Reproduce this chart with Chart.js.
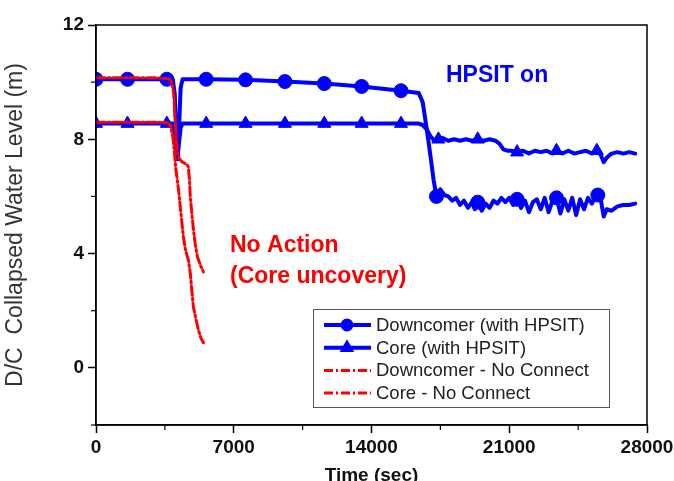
<!DOCTYPE html>
<html>
<head>
<meta charset="utf-8">
<script src="https://cdn.jsdelivr.net/npm/chart.js@4.4.0/dist/chart.umd.min.js"></script>
<style>
  html, body { margin: 0; padding: 0; background: #fff; overflow: hidden; }
  #wrap { width: 674px; height: 481px; }
</style>
</head>
<body>
<div id="wrap"><canvas id="levelChart" width="674" height="481"></canvas></div>
<script>
// time axis (sec) and level axis (m)
var xLabels = [0, 7000, 14000, 21000, 28000]
var yLabels = [0, 4, 8, 12]

// Downcomer (with HPSIT)
var dcTime = [0, 1600, 3600, 3900, 4000, 4080, 4150, 4220, 4300, 4400, 5600, 7600, 9600, 11600, 13500, 15500, 16400, 16600, 16800, 17000, 17150, 17300,
  17500, 17700, 17900, 18100, 18300, 18500, 18700, 18900, 19100, 19250, 19400, 19600, 19800, 20000, 20200, 20400, 20600, 20800, 21000, 21200, 21400,
  21600, 21800, 22000, 22200, 22400, 22600, 22800, 23000, 23200, 23400, 23600, 23800, 24000, 24200, 24400, 24600, 24800, 25000, 25200, 25350, 25500,
  25650, 25800, 25950, 26200, 26500, 26800, 27100, 27400]
var dcLevel = [10.1, 10.1, 10.1, 10.1, 9.6, 8.2, 7.3, 8.4, 9.8, 10.1, 10.1, 10.08, 10.02, 9.95, 9.85, 9.7, 9.62, 9.3, 8.4, 7.4, 6.6, 6.0,
  6.25, 6.05, 6.0, 5.85, 5.95, 5.7, 5.85, 5.6, 5.8, 5.55, 5.8, 5.5, 5.75, 5.6, 5.85, 5.75, 5.95, 5.8, 5.95, 5.7, 5.9,
  5.6, 5.85, 5.45, 5.8, 5.9, 5.55, 5.95, 5.45, 5.85, 5.95, 5.4, 5.9, 5.5, 5.95, 5.35, 5.9, 5.55, 5.95, 5.75, 5.95, 6.05,
  5.9, 5.3, 5.55, 5.5, 5.65, 5.7, 5.7, 5.75]
var dcMarks = [0, 1600, 3600, 5600, 7600, 9600, 11600, 13500, 15500, 17300, 19400, 21400, 23400, 25500]

// Core (with HPSIT)
var coreTime = [0, 1600, 3600, 3900, 4000, 4080, 4150, 4220, 4300, 4400, 5600, 7600, 9600, 11600, 13500, 15500, 16400, 16600, 16800, 17000, 17200,
  17400, 17600, 17900, 18200, 18500, 18800, 19100, 19400, 19700, 20000, 20300, 20500, 20700, 20900, 21100, 21400, 21700, 22000, 22300, 22600, 22900,
  23200, 23400, 23700, 24000, 24300, 24600, 24900, 25200, 25450, 25650, 25800, 25950, 26200, 26500, 26800, 27100, 27400]
var coreLevel = [8.55, 8.55, 8.55, 8.55, 8.2, 7.7, 7.4, 7.9, 8.4, 8.55, 8.55, 8.55, 8.55, 8.55, 8.55, 8.55, 8.55, 8.5, 8.35, 8.1, 7.95,
  8.0, 8.05, 7.95, 8.0, 7.95, 8.0, 7.95, 8.0, 7.95, 8.0, 7.95, 7.85, 7.65, 7.6, 7.6, 7.55, 7.6, 7.5, 7.6, 7.55, 7.6,
  7.5, 7.6, 7.5, 7.6, 7.5, 7.55, 7.6, 7.5, 7.6, 7.45, 7.2, 7.35, 7.5, 7.55, 7.5, 7.55, 7.5]
var coreMarks = [0, 1600, 3600, 5600, 7600, 9600, 11600, 13500, 15500, 17400, 19400, 21400, 23400, 25450]

// Downcomer - No Connect
var dcNoTime = [0, 1500, 3000, 3700, 3850, 3950, 4020, 4080, 4150, 4250, 4390, 4550, 4690, 4750, 4790, 4870, 4950, 5050, 5150, 5300, 5460]
var dcNoLevel = [10.15, 10.15, 10.15, 10.12, 10.0, 9.6, 8.8, 8.0, 7.5, 7.3, 7.2, 7.15, 7.05, 6.6, 6.0, 5.4, 4.85, 4.3, 3.9, 3.6, 3.36]

// Core - No Connect
var coreNoTime = [0, 1500, 3000, 3650, 3800, 3900, 3980, 4050, 4130, 4200, 4280, 4360, 4440, 4540, 4640, 4700, 4790, 4870, 4950, 5080, 5200, 5330, 5460]
var coreNoLevel = [8.6, 8.6, 8.6, 8.58, 8.45, 8.1, 7.6, 7.0, 6.58, 6.2, 5.65, 5.1, 4.6, 4.15, 3.9, 3.75, 3.33, 2.7, 2.13, 1.7, 1.33, 1.05, 0.88]

var blue = '#0000ff'
var red = '#ff0000'
var fontFamily = "'Liberation Sans', Arial, sans-serif"

function toPoints(times, levels){
    var pts = []
    for(var i = 0; i < times.length; i++){
        pts.push({x: times[i], y: levels[i]})
    }
    return pts
}

function markerRadius(marks, size){
    return function(ctx){
        return marks.indexOf(ctx.raw.x) >= 0 ? size : 0
    }
}

Chart.defaults.font.family = fontFamily

// frame, minor ticks, legend box and text notes
var decorPlugin = {
    id: 'decor',
    afterDraw(chart){
        var ctx = chart.ctx
        var area = chart.chartArea
        var xs = chart.scales.x
        var ys = chart.scales.y
        ctx.save()
        ctx.strokeStyle = '#000'
        ctx.lineWidth = 1.5
        ctx.strokeRect(area.left, area.top, area.right - area.left, area.bottom - area.top)

        // minor ticks
        ctx.lineWidth = 1.2
        xs.ticks.forEach(function(t){
            if(t.value % 7000 !== 0){
                var px = xs.getPixelForValue(t.value)
                ctx.beginPath(); ctx.moveTo(px, area.bottom); ctx.lineTo(px, area.bottom + 5); ctx.stroke()
            }
        })
        ys.ticks.forEach(function(t){
            if(t.value % 4 !== 0){
                var py = ys.getPixelForValue(t.value)
                ctx.beginPath(); ctx.moveTo(area.left - 5, py); ctx.lineTo(area.left, py); ctx.stroke()
            }
        })

        // notes
        ctx.font = 'bold 23px ' + fontFamily
        ctx.textBaseline = 'middle'
        ctx.textAlign = 'left'
        ctx.fillStyle = blue
        ctx.fillText('HPSIT on', 446, 76)
        ctx.fillStyle = red
        ctx.fillText('No Action', 230, 246)
        ctx.fillText('(Core uncovery)', 230, 277)

        // legend
        var lx = 313, ly = 309, lw = 296, lh = 98
        ctx.fillStyle = '#fff'
        ctx.fillRect(lx, ly, lw, lh)
        ctx.strokeStyle = '#555'
        ctx.lineWidth = 1
        ctx.strokeRect(lx + 0.5, ly + 0.5, lw, lh)
        ctx.font = '18.5px ' + fontFamily
        chart.data.datasets.forEach(function(ds, i){
            var rowY = ly + 16 + i * 22.7
            ctx.save()
            ctx.strokeStyle = ds.borderColor
            ctx.lineWidth = ds.borderWidth
            ctx.setLineDash(ds.borderDash || [])
            ctx.beginPath(); ctx.moveTo(lx + 11, rowY); ctx.lineTo(lx + 58, rowY); ctx.stroke()
            ctx.setLineDash([])
            if(ds.legendMarker){
                ctx.fillStyle = ds.borderColor
                Chart.helpers.drawPoint(ctx, {pointStyle: ds.pointStyle, radius: 4.5, borderWidth: 1, rotation: 0}, lx + 34, rowY)
            }
            ctx.restore()
            ctx.fillStyle = '#222'
            ctx.fillText(ds.label, lx + 63, rowY + 1)
        })
        ctx.restore()
    }
}

function tickColor(step){
    return function(ctx){
        return ctx.tick && ctx.tick.value % step === 0 ? '#000' : 'rgba(0,0,0,0)'
    }
}

new Chart(document.getElementById('levelChart'), {
    type: 'line',
    data: {
        datasets: [{
            label: 'Downcomer (with HPSIT)',
            data: toPoints(dcTime, dcLevel),
            borderColor: blue,
            backgroundColor: blue,
            borderWidth: 4,
            pointStyle: 'circle',
            pointRadius: markerRadius(dcMarks, 7),
            pointBorderWidth: 1,
            legendMarker: true,
            order: 2
        }, {
            label: 'Core (with HPSIT)',
            data: toPoints(coreTime, coreLevel),
            borderColor: blue,
            backgroundColor: blue,
            borderWidth: 4,
            pointStyle: 'triangle',
            pointRadius: markerRadius(coreMarks, 7.5),
            pointBorderWidth: 1,
            legendMarker: true,
            order: 2
        }, {
            label: 'Downcomer - No Connect',
            data: toPoints(dcNoTime, dcNoLevel),
            borderColor: red,
            backgroundColor: red,
            borderWidth: 3,
            borderDash: [9, 3, 2, 3],
            pointRadius: 0,
            order: 1
        }, {
            label: 'Core - No Connect',
            data: toPoints(coreNoTime, coreNoLevel),
            borderColor: red,
            backgroundColor: red,
            borderWidth: 3,
            borderDash: [9, 3, 2, 3],
            pointRadius: 0,
            order: 1
        }]
    },
    options: {
        responsive: false,
        animation: false,
        layout: { padding: { top: 25, right: 27, left: 0, bottom: 0 } },
        elements: { line: { tension: 0, borderJoinStyle: 'round', borderCapStyle: 'round' } },
        plugins: {
            legend: { display: false },
            tooltip: { enabled: false }
        },
        scales: {
            x: {
                type: 'linear',
                min: 0,
                max: 28000,
                afterFit: function(s){ s.height = 56; s.paddingRight = 0; s.paddingLeft = 0 },
                ticks: {
                    stepSize: 3500,
                    autoSkip: false,
                    maxRotation: 0,
                    padding: 3,
                    color: '#111',
                    font: { size: 19, weight: 'bold' },
                    callback: function(v){ return xLabels.indexOf(v) >= 0 ? String(v) : '' }
                },
                grid: { drawOnChartArea: false, tickLength: 8, tickWidth: 1.5, tickColor: tickColor(7000) },
                border: { color: '#000', width: 1.5 },
                title: { display: true, text: 'Time (sec)', color: '#111', font: { size: 19, weight: 'bold' }, padding: { top: 0, bottom: -6 } }
            },
            y: {
                min: -2,
                max: 12,
                afterFit: function(s){ s.width = 96; s.paddingTop = 0; s.paddingBottom = 0 },
                ticks: {
                    stepSize: 2,
                    autoSkip: false,
                    padding: 4,
                    color: '#111',
                    font: { size: 19, weight: 'bold' },
                    callback: function(v){ return yLabels.indexOf(v) >= 0 ? String(v) : '' }
                },
                grid: { drawOnChartArea: false, tickLength: 8, tickWidth: 1.5, tickColor: tickColor(4) },
                border: { color: '#000', width: 1.5 },
                title: { display: true, text: 'D/C  Collapsed Water Level (m)', color: '#333', font: { size: 23 }, padding: { top: 2, bottom: 0 } }
            }
        }
    },
    plugins: [decorPlugin]
})
</script>
</body>
</html>
